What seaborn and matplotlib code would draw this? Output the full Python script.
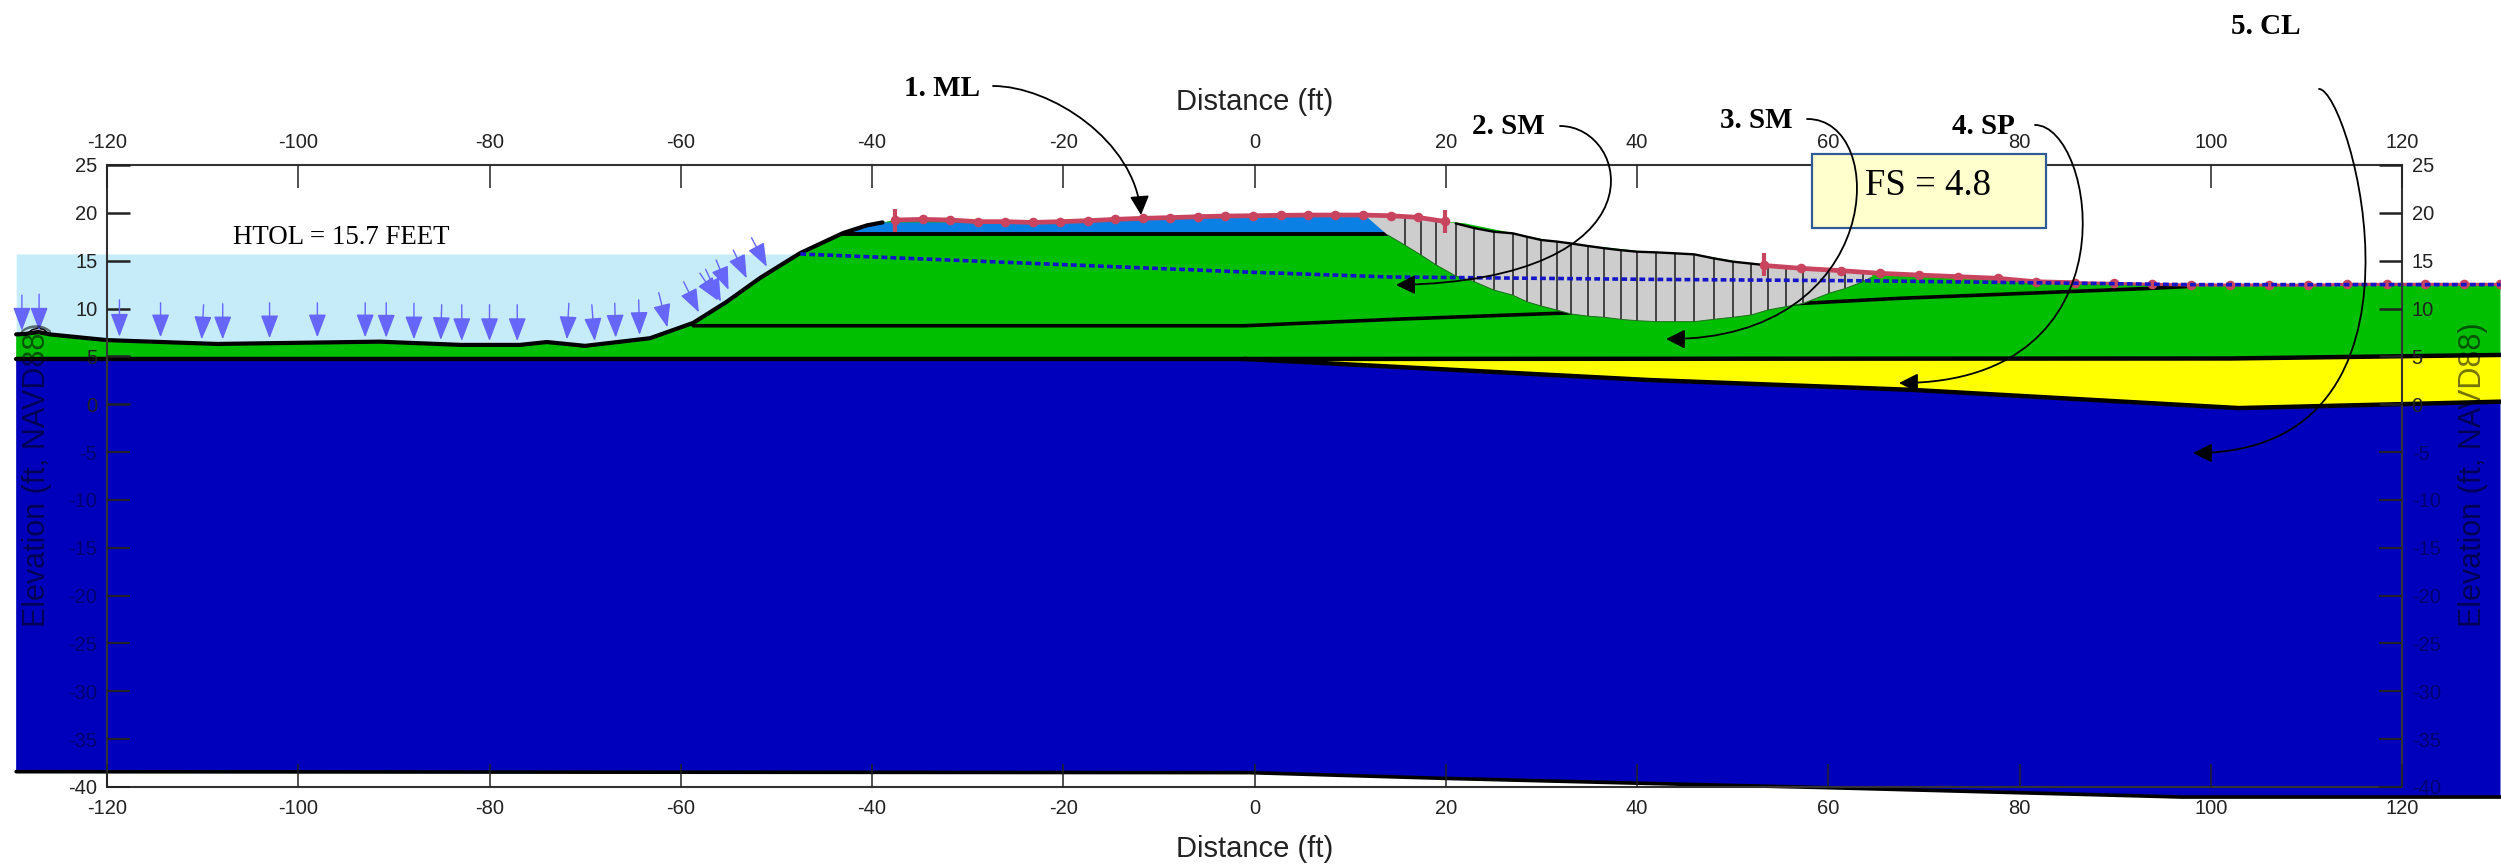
#!/usr/bin/env python
"""Levee cross section with slip surface, redrawn from a slope stability figure"""
import numpy as np
import matplotlib
matplotlib.use('Agg')
import matplotlib.pyplot as plt
from matplotlib.patches import FancyArrowPatch, Rectangle
from matplotlib.path import Path
import seaborn as sns

#BEGIN DATA (feet)
x_ticks = [-120, -100, -80, -60, -40, -20, 0, 20, 40, 60, 80, 100, 120]
y_ticks = [-40, -35, -30, -25, -20, -15, -10, -5, 0, 5, 10, 15, 20, 25]

surface_x = [-129.5, -128.5, -127.2, -126, -120, -108.5, -91.5, -83, -76.8, -74, -70, -63.2, -58.7,
             -55.2, -51.7, -47.5, -43, -40.5, -38.9, -37.6, -23.2, -11.9, -0.1, 14.3, 19.9, 22, 31.8, 41.3, 45.9,
             51.8, 53.3, 65.2, 81, 98.1, 130.3]
surface_y = [7.3, 7.35, 7.55, 7.3, 6.7, 6.3, 6.54, 6.2, 6.2, 6.5, 6.1, 6.9, 8.5,
             10.7, 13.2, 15.8, 17.9, 18.7, 19.0, 19.25, 19.0, 19.5, 19.7, 19.8, 19.1, 18.9, 16.9, 15.9, 15.7,
             14.7, 14.5, 13.7, 12.8, 12.5, 12.55]

bump_x = [-128.4, -127.8, -127.2, -126.6, -126]
bump_y = [7.4, 7.8, 7.95, 7.8, 7.3]

clay_top_x = [-129.5, -1.1, 41.3, 68.8, 102.9, 120.8, 130.3]
clay_top_y = [4.73, 4.73, 2.53, 1.5, -0.4, 0.03, 0.27]
clay_bottom_x = [-129.5, -0.5, 19.9, 40, 60, 80, 97, 130.3]
clay_bottom_y = [-38.4, -38.5, -39.1, -39.6, -40.07, -40.6, -41.05, -41.05]

sand_top_x = [-1.1, 102, 130.3]
sand_top_y = [4.73, 4.78, 5.15]

silt_x = [-43, -40.5, -38.9, -23.2, -0.1, 11.6, 13.9]
silt_y = [17.8, 18.7, 19.0, 19.0, 19.7, 19.7, 17.8]

inner_x = [-58.7, -1.1, 15.2, 33.0, 57.2, 67.5, 93.5, 97.5]
inner_y = [8.2, 8.2, 8.9, 9.55, 10.54, 11.07, 12.1, 12.3]

piezo_x = [-47.5, -0.5, 14.2, 41.3, 63.7, 98, 130.3]
piezo_y = [15.7, 13.8, 13.3, 13.05, 12.9, 12.5, 12.5]

water_x = [-129.5, -128.5, -127.2, -126, -120, -108.5, -91.5, -83, -76.8, -74, -70, -63.2, -58.7, -55.2, -51.7, -47.5]
water_y = [7.3, 7.35, 7.55, 7.3, 6.7, 6.3, 6.54, 6.2, 6.2, 6.5, 6.1, 6.9, 8.5, 10.7, 13.2, 15.7]
water_level = 15.7

slice_x = [15.7, 17.4, 19.0, 21.05, 23.0, 25.0, 27.0, 28.5, 30.0, 31.6, 33.1, 34.9, 36.6, 38.3, 40.0,
           42.0, 44.0, 46.0, 48.0, 50.0, 51.9, 53.7, 55.6, 57.4, 60.1, 61.8, 63.6]
slice_top = [19.7, 19.5, 19.25, 18.9, 18.4, 18.03, 17.86, 17.5, 17.16, 17.0, 16.8, 16.53, 16.3, 16.1, 15.94,
             15.87, 15.77, 15.66, 15.25, 14.9, 14.7, 14.5, 14.3, 14.15, 14.0, 13.85, 13.75]
slice_bottom = [16.64, 15.6, 14.55, 13.4, 12.8, 11.94, 11.4, 10.7, 10.26, 9.85, 9.43, 9.2, 9.08, 8.87, 8.73,
                8.63, 8.63, 8.63, 8.87, 9.08, 9.32, 9.85, 10.2, 10.54, 11.6, 12.1, 12.8]

slip_x = [11.6, 13.9] + slice_x + [64.6]
slip_y = [19.7, 17.7] + slice_bottom + [13.3]
slip_top_x = [64.6] + slice_x[::-1] + [14.3, 11.6]
slip_top_y = [13.72] + slice_top[::-1] + [19.8, 19.7]

crest_x = [-37.6, -34.7, -31.8, -28.95, -26.06, -23.2, -20.3, -17.45, -14.56, -11.7, -8.8, -5.9, -3.05,
           -0.16, 2.73, 5.56, 8.45, 11.34, 14.23, 17.06, 19.9]
crest_y = [19.25, 19.32, 19.25, 19.08, 19.08, 19.0, 19.08, 19.18, 19.32, 19.43, 19.5, 19.6, 19.67,
           19.7, 19.74, 19.77, 19.77, 19.77, 19.7, 19.53, 19.1]
toe_x = [53.3, 57.2, 61.3, 65.4, 69.5, 73.6, 77.7, 81.7, 85.8, 89.9, 93.9, 97.9, 102, 106.1, 110.2,
         114.3, 118.4, 122.4, 126.5, 130.3]
toe_y = [14.5, 14.2, 13.96, 13.68, 13.5, 13.33, 13.16, 12.8, 12.7, 12.63, 12.53, 12.46, 12.46, 12.46,
         12.43, 12.53, 12.53, 12.53, 12.53, 12.53]
limit_x = [-37.6, 19.9, 53.3]
limit_low = [18.0, 17.85, 13.4]
limit_high = [20.4, 20.3, 15.8]

load_tip_x = [-128.9, -127.1, -118.7, -114.4, -110.1, -107.9, -103.0, -98.0, -93.0, -90.8, -87.9, -85.1, -82.9,
              -80.0, -77.1, -71.9, -69.0, -66.8, -64.3, -61.4, -58.1, -56.1, -55.8, -55.0, -53.1, -51.0]
load_tip_y = [7.69, 7.69, 7.06, 6.99, 6.78, 6.78, 6.89, 6.99, 6.99, 6.96, 6.78, 6.71, 6.6,
              6.6, 6.6, 6.78, 6.6, 6.96, 7.24, 8.04, 9.6, 10.82, 10.72, 11.94, 13.16, 14.37]
load_tail_x = [-128.9, -127.1, -118.7, -114.4, -109.9, -107.9, -103.0, -98.0, -93.0, -90.8, -87.9, -85.0, -82.9,
               -80.0, -77.1, -71.7, -69.3, -66.9, -64.4, -62.3, -59.7, -58.0, -57.4, -56.3, -54.5, -52.6]
load_tail_y = [11.4, 11.5, 10.9, 10.6, 10.4, 10.5, 10.6, 10.6, 10.6, 10.6, 10.55, 10.4, 10.4,
               10.4, 10.4, 10.55, 10.4, 10.55, 10.9, 11.66, 12.8, 13.7, 14.1, 15.07, 16.1, 17.4]

soil_labels = ['1. ML', '2. SM', '3. SM', '4. SP', '5. CL']
#END DATA

#Reference picture pixels for the hand placed callouts
W, H = 2501, 868
label_pos = [(942, 88), (1508, 127), (1756, 120), (1983, 126), (2266, 27)]
callout_x = [(993, 1050, 1135, 1141), (1560, 1630, 1668, 1396), (1807, 1890, 1886, 1666),
             (2035, 2095, 2140, 1899), (2319, 2350, 2453, 2193)]
callout_y = [(86, 86, 140, 215), (126, 126, 280, 285), (119, 118, 340, 339),
             (125, 125, 383, 383), (89, 89, 453, 453)]

BLUE = '#0000BC'
GREEN = '#00BE00'
YELLOW = '#FFFF00'
SILT = '#0A80E4'
WATER = '#C6ECFA'
GREY = '#CDCDCD'
RED = '#C9445F'
LOAD = '#6666FA'
DARK = '#1414C8'
SUNK = '#00006E'


def frac(x, y):
    return x / W, 1 - y / H


sns.set_theme(style='white')
plt.rcParams['font.family'] = ['Liberation Sans', 'DejaVu Sans']
plt.rcParams['axes.unicode_minus'] = False

fig = plt.figure(figsize=(W / 100, H / 100), dpi=100)
ax = fig.add_axes([107 / W, (H - 787) / H, 2295 / W, 622 / H])
ax.set_xlim(-120, 120)
ax.set_ylim(-40, 25)
ax.set_axisbelow(False)
ax.patch.set_alpha(0)

#Soil layers, allowed to run past the frame like the original
ax.fill_between(water_x, water_y, water_level, color=WATER, lw=0, clip_on=False, zorder=1)
ax.fill(surface_x + sand_top_x[::-1] + [-1.1, -129.5], surface_y + sand_top_y[::-1] + [4.73, 4.73],
        color=GREEN, lw=0, clip_on=False, zorder=1.1)
ax.fill(sand_top_x + clay_top_x[:0:-1], sand_top_y + clay_top_y[:0:-1], color=YELLOW, lw=0, clip_on=False, zorder=1.1)
ax.fill(clay_top_x + clay_bottom_x[::-1], clay_top_y + clay_bottom_y[::-1], color=BLUE, lw=0, clip_on=False, zorder=1.1)
ax.fill(silt_x, silt_y, color=SILT, lw=0, clip_on=False, zorder=1.2)
ax.fill(bump_x, bump_y, color=GREY, lw=0, clip_on=False, zorder=1.2)

#Boundaries
line_kw = dict(estimator=None, sort=False, ax=ax, clip_on=False, legend=False)
for bx, by, lw in [(clay_top_x, clay_top_y, 3.2), (clay_bottom_x, clay_bottom_y, 2.6),
                   (sand_top_x, sand_top_y, 3.2), (inner_x, inner_y, 2.6), (surface_x[:19], surface_y[:19], 3.0),
                   (silt_x[0::6], [17.8, 17.8], 2.8)]:
    sns.lineplot(x=bx, y=by, color='black', linewidth=lw, zorder=1.4, **line_kw)
sns.lineplot(x=bump_x, y=bump_y, color='black', linewidth=1.0, zorder=1.4, **line_kw)

#Failure mass sits over the layers
ax.fill(slip_x + slip_top_x, slip_y + slip_top_y, color=GREY, lw=0, clip_on=False, zorder=1.6)
ax.vlines(slice_x, slice_bottom, slice_top, color='#2A2A2A', lw=1.2, zorder=1.7)
sns.lineplot(x=slip_x[1:], y=slip_y[1:], color='#1E6E1E', linewidth=0.7, zorder=1.7, **line_kw)
sns.lineplot(x=slice_x[3:22], y=slice_top[3:22], color='black', linewidth=1.7, zorder=1.7, **line_kw)

#Red search limits and surface nodes
sns.lineplot(x=crest_x, y=crest_y, color=RED, linewidth=3.4, zorder=2, **line_kw)
sns.lineplot(x=toe_x[:9], y=toe_y[:9], color=RED, linewidth=3.4, zorder=2, **line_kw)
sns.lineplot(x=toe_x[8:], y=toe_y[8:], color=RED, linewidth=2.2, zorder=2, **line_kw)
sns.scatterplot(x=crest_x + toe_x, y=crest_y + toe_y, color=RED, s=48, linewidth=0, ax=ax, clip_on=False,
                zorder=2.1, legend=False)
ax.vlines(limit_x, limit_low, limit_high, color=RED, lw=3.0, zorder=2.1)

#Phreatic line
sns.lineplot(x=piezo_x, y=piezo_y, color=DARK, linewidth=2.6, linestyle=(0, (1.6, 0.9)), zorder=2.2, **line_kw)

#Water load arrows
for tx, ty, sx, sy in zip(load_tip_x, load_tip_y, load_tail_x, load_tail_y):
    ax.annotate('', xy=(tx, ty), xytext=(sx, sy), annotation_clip=False, zorder=3,
                arrowprops=dict(arrowstyle='-|>,head_length=14.5,head_width=5.5', mutation_scale=1, color=LOAD,
                                lw=1.0, shrinkA=0, shrinkB=0))

#Frame and ticks
for side in ax.spines.values():
    side.set_color('#333333')
    side.set_linewidth(1.5)
ax.set_xticks(x_ticks)
ax.set_yticks(y_ticks)
ax.tick_params(axis='x', which='major', direction='in', length=16.5, width=1.1, color='#222222', top=True, bottom=True,
               labeltop=True, labelbottom=True, labelsize=14.5, labelcolor='#222222', pad=9)
ax.tick_params(axis='y', which='major', direction='in', length=16.5, width=1.8, color='#222222', left=True, right=True,
               labelleft=True, labelright=True, labelsize=14.5, labelcolor='#222222', pad=7)

#Ticks and labels that sit on the dark clay are sunk into it
for tick, level in zip(ax.yaxis.get_major_ticks(), y_ticks):
    if level < 0:
        tick.tick1line.set_color(SUNK)
        tick.tick2line.set_color(SUNK)
        tick.label2.set_color(SUNK)
        if level > -40:
            tick.label1.set_color(SUNK)
        tick.tick1line.set_markeredgewidth(1.4)
        tick.tick2line.set_markeredgewidth(1.4)
for tick in ax.xaxis.get_major_ticks():
    tick.tick1line.set_color('#000040')

#Axis titles
for x, y in [(1255, 102), (1255, 849)]:
    fig.text(*frac(x, y), 'Distance (ft)', fontsize=21, color='#222222', ha='center', va='center')
for x in (37, 2473):
    fig.text(*frac(x, 475), 'Elevation (ft, NAVD88)', fontsize=22, color='#000000', alpha=0.55, ha='center',
             va='center', rotation=90)

#Hand annotations
serif = ['Liberation Serif', 'DejaVu Serif']
fig.text(*frac(341, 238), 'HTOL = 15.7 FEET', fontsize=19.4, family=serif, color='black', ha='center', va='center')
for name, (x, y) in zip(soil_labels, label_pos):
    fig.text(*frac(x, y), name, fontsize=21, family=serif, fontweight='bold', color='black', ha='center', va='center')

codes = [Path.MOVETO, Path.CURVE4, Path.CURVE4, Path.CURVE4]
fig.add_artist(Rectangle(frac(1812, 228), 234 / W, 74 / H, transform=fig.transFigure, facecolor='#FFFFCE',
                         edgecolor='#2F5C96', linewidth=1.6, zorder=4))
fig.text(*frac(1928, 186), 'FS = 4.8', fontsize=26.5, family=serif, color='black', ha='center', va='center', zorder=5)
for cx, cy in zip(callout_x, callout_y):
    verts = [frac(x, y) for x, y in zip(cx, cy)]
    fig.add_artist(FancyArrowPatch(path=Path(verts, codes), transform=fig.transFigure,
                                   arrowstyle='-|>,head_length=11.5,head_width=5.8', mutation_scale=1,
                                   color='black', lw=1.3, zorder=6))

fig.savefig('out.png', dpi=100)
